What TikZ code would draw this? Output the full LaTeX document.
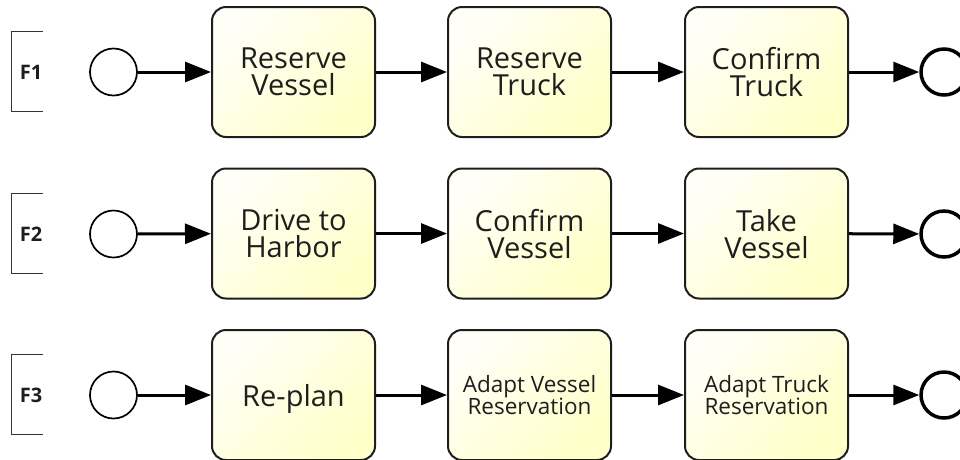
\documentclass[tikz,border=0pt]{standalone}
\usepackage{fontspec}
\setmainfont{Open Sans}
\usetikzlibrary{arrows.meta}

\definecolor{inkdark}{HTML}{1E1E1E}
\definecolor{annotline}{HTML}{333333}
\definecolor{taskhi}{HTML}{FFFFF8}
\definecolor{tasklo}{HTML}{FFFFC8}

\tikzset{
  task/.style={draw=inkdark, line width=2pt, rounded corners=14pt,
    minimum width=163pt, minimum height=130pt, inner sep=0pt,
    top color=taskhi, bottom color=tasklo, shading angle=45,
    align=center, text=inkdark, text depth=0pt,
    font=\fontsize{29}{27}\selectfont},
  smalltask/.style={task, font=\fontsize{22.5}{22}\selectfont},
  startev/.style={circle, draw=black, line width=1.7pt, fill=white,
    minimum size=47pt, inner sep=0pt},
  endev/.style={circle, draw=black, line width=3.5pt, fill=white,
    minimum size=46pt, inner sep=0pt},
  flow/.style={line width=3pt, draw=black,
    -{Triangle[length=26pt, width=20pt]}},
  annot/.style={minimum width=31pt, minimum height=79pt, inner sep=0pt},
  annotlabel/.style={font=\fontsize{20}{22}\bfseries\selectfont,
    text=inkdark, inner sep=0pt},
  bracketline/.style={draw=annotline, line width=1.3pt}
}

\begin{document}
\begin{tikzpicture}[x=1pt, y=-1pt]
  \useasboundingbox (0,0) rectangle (960,459);
  \clip (0,0) rectangle (960,459);

  % ---- row F1 ----
  \node[annot] (b1) at (27.5,71.5) {};
  \node[annotlabel] (f1) at (31,72) {F1};
  \node[startev] (s1) at (113.5,72) {};
  \node[task] (t11) at (293.5,72) {Reserve\\Vessel};
  \node[task] (t12) at (529.5,72) {Reserve\\Truck};
  \node[task] (t13) at (766.5,72) {Confirm\\Truck};
  \node[endev] (e1) at (944,72) {};

  % ---- row F2 ----
  \node[annot] (b2) at (27.5,233.5) {};
  \node[annotlabel] (f2) at (31,234) {F2};
  \node[startev] (s2) at (113.5,234) {};
  \node[task] (t21) at (293.5,233.5) {Drive to\\Harbor};
  \node[task] (t22) at (529.5,233.5) {Confirm\\Vessel};
  \node[task] (t23) at (766.5,233.5) {Take\\Vessel};
  \node[endev] (e2) at (944,234) {};

  % ---- row F3 ----
  \node[annot] (b3) at (27.5,394.5) {};
  \node[annotlabel] (f3) at (31,395) {F3};
  \node[startev] (s3) at (113.5,395) {};
  \node[task] (t31) at (293.5,395) {Re-plan};
  \node[smalltask] (t32) at (529.5,395) {Adapt Vessel\\Reservation};
  \node[smalltask] (t33) at (766.5,395) {Adapt Truck\\Reservation};
  \node[endev] (e3) at (944,395) {};

  % annotation brackets
  \foreach \b in {b1,b2,b3}
    \draw[bracketline] (\b.north east) -- (\b.north west) -- (\b.south west) -- (\b.south east);

  % sequence flows
  \foreach \r in {1,2,3} {
    \draw[flow] (s\r) -- (t\r1);
    \draw[flow] (t\r1) -- (t\r2);
    \draw[flow] (t\r2) -- (t\r3);
    \draw[flow] (t\r3) -- (e\r);
  }
\end{tikzpicture}
\end{document}
